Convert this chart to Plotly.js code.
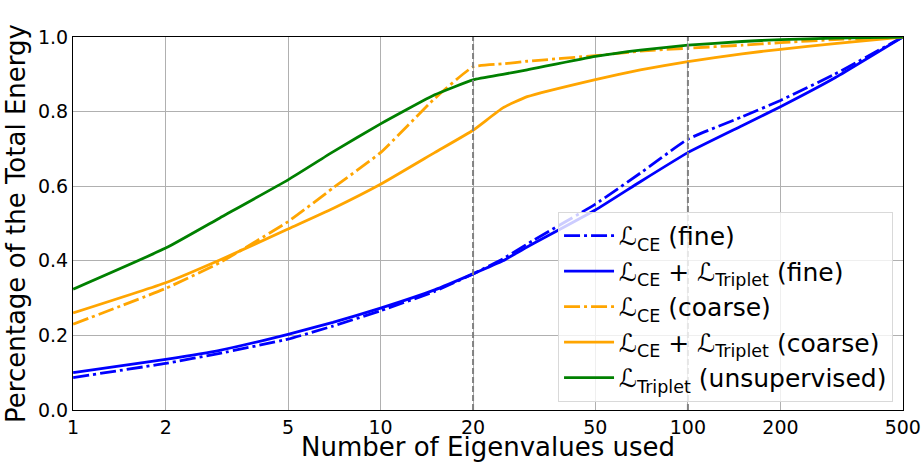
<!DOCTYPE html>
<html>
<head>
<meta charset="utf-8">
<script src="https://cdn.plot.ly/plotly-3.0.1.min.js"></script>
<style>html,body{margin:0;padding:0;background:#fff;}#chart{width:921px;height:462px;}</style>
</head>
<body>
<div id="chart"></div>
<script>
const xVals = [1, 2, 3, 5, 7, 10, 15, 20, 25, 30, 50, 70, 100, 150, 200, 300, 500];
const ceFine        = [0.087, 0.125, 0.152, 0.190, 0.225, 0.266, 0.318, 0.365, 0.405, 0.445, 0.552, 0.635, 0.726, 0.786, 0.830, 0.900, 1.0];
const ceTripletFine = [0.100, 0.136, 0.160, 0.203, 0.235, 0.273, 0.322, 0.365, 0.400, 0.437, 0.536, 0.612, 0.690, 0.762, 0.813, 0.890, 1.0];
const ceCoarse      = [0.230, 0.326, 0.395, 0.505, 0.595, 0.690, 0.835, 0.920, 0.928, 0.935, 0.950, 0.962, 0.970, 0.978, 0.985, 0.993, 1.0];
const ceTripletCoarse = [0.260, 0.341, 0.402, 0.485, 0.540, 0.605, 0.690, 0.750, 0.810, 0.840, 0.886, 0.912, 0.934, 0.955, 0.967, 0.982, 1.0];
const tripletUnsup  = [0.324, 0.434, 0.515, 0.617, 0.692, 0.767, 0.845, 0.885, 0.900, 0.912, 0.948, 0.965, 0.978, 0.988, 0.993, 0.997, 1.0];
const seriesNames = [
  "ℒ<sub>CE</sub> (fine)",
  "ℒ<sub>CE</sub> + ℒ<sub>Triplet</sub> (fine)",
  "ℒ<sub>CE</sub> (coarse)",
  "ℒ<sub>CE</sub> + ℒ<sub>Triplet</sub> (coarse)",
  "ℒ<sub>Triplet</sub> (unsupervised)"
];
const xTicks = [1, 2, 5, 10, 20, 50, 100, 200, 500];
const yTicks = [0, 0.2, 0.4, 0.6, 0.8, 1.0];
const refLines = [20, 100];

const dashDot = "16px,4px,3px,4px";
const mk = (y, name, color, dash) => ({
  x: xVals, y: y, name: name, type: 'scatter', mode: 'lines', cliponaxis: false,
  line: {color: color, width: 2.8, dash: dash, shape: 'spline', smoothing: 0.4}
});
const traces = [
  mk(ceFine, seriesNames[0], '#0000ff', dashDot),
  mk(ceTripletFine, seriesNames[1], '#0000ff', 'solid'),
  mk(ceCoarse, seriesNames[2], '#ffa500', dashDot),
  mk(ceTripletCoarse, seriesNames[3], '#ffa500', 'solid'),
  mk(tripletUnsup, seriesNames[4], '#008000', 'solid')
];
const shapes = refLines.map(v => ({
  type: 'line', xref: 'x', yref: 'paper', x0: v, x1: v, y0: 0, y1: 1,
  line: {color: '#808080', width: 2, dash: '6px,3px'}
}));
const tf = {family: 'DejaVu Sans, sans-serif', size: 19, color: '#000'};
const layout = {
  width: 921, height: 462,
  margin: {l: 73, r: 18, t: 37, b: 52},
  paper_bgcolor: '#fff', plot_bgcolor: '#fff',
  font: {family: 'DejaVu Sans, sans-serif', color: '#000'},
  showlegend: true,
  legend: {
    x: 0.988, y: 0.022, xanchor: 'right', yanchor: 'bottom',
    bgcolor: 'rgba(255,255,255,0.8)', bordercolor: '#d9d9d9', borderwidth: 1,
    font: {family: 'DejaVu Sans, sans-serif', size: 25, color: '#000'},
    tracegroupgap: 0, itemwidth: 50
  },
  xaxis: {
    type: 'log', range: [-0.0005, Math.log10(500) + 0.0008],
    tickvals: xTicks, ticktext: xTicks.map(String),
    showgrid: true, gridcolor: '#b0b0b0', gridwidth: 1,
    showline: true, mirror: true, linecolor: '#000', linewidth: 1,
    ticks: '', zeroline: false, tickfont: tf, ticklabelstandoff: 0,
    title: {text: 'Number of Eigenvalues used', font: {family: 'DejaVu Sans, sans-serif', size: 26, color: '#000'}, standoff: 3}
  },
  yaxis: {
    range: [0, 1], tickvals: yTicks, ticktext: yTicks.map(v => v.toFixed(1)),
    showgrid: true, gridcolor: '#b0b0b0', gridwidth: 1,
    showline: true, mirror: true, linecolor: '#000', linewidth: 1,
    ticks: '', zeroline: false, tickfont: tf,
    title: {text: 'Percentage of the Total Energy', font: {family: 'DejaVu Sans, sans-serif', size: 26, color: '#000'}, standoff: 4}
  },
  shapes: shapes
};
Plotly.newPlot('chart', traces, layout, {displayModeBar: false, staticPlot: true});
</script>
</body>
</html>
